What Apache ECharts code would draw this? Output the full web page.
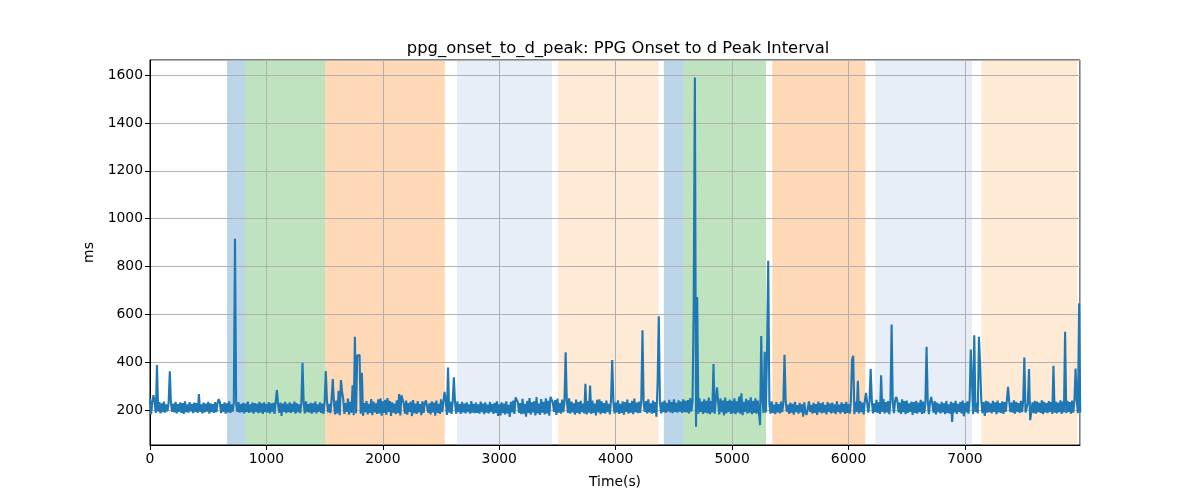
<!DOCTYPE html>
<html>
<head>
<meta charset="utf-8">
<script src="https://cdn.jsdelivr.net/npm/echarts@6/dist/echarts.min.js"></script>
<style>html,body{margin:0;padding:0;background:#fff}#c{width:1200px;height:500px}</style>
</head>
<body>
<div id="c"></div>
<script>
// Time step of the baseline samples (seconds)
const timeStep = 10;
// Baseline PPG onset to d-peak interval (ms), one value every 10 s, rows of 200 s
const baseline = [
248,183,236,192,230,188,226,194,233,186,228,191,235,189,224,195,231,187,229,193,
227,190,234,186,225,193,232,188,229,184,236,191,224,189,233,195,226,187,231,192,
229,188,235,193,224,186,231,190,227,194,234,185,228,192,225,188,233,191,226,189,
234,187,225,193,232,185,228,190,236,188,224,194,230,186,227,192,233,189,225,191,
230,186,227,192,235,188,224,191,231,185,229,193,226,187,234,190,228,184,232,192,
225,189,233,186,228,193,230,184,236,190,224,188,231,176,227,192,234,187,226,191,
232,188,226,193,235,185,229,191,224,187,233,190,228,186,236,192,225,189,230,185,
228,191,235,186,224,193,232,188,227,184,234,180,238,190,226,187,233,192,229,182,
240,186,231,179,236,190,245,184,229,192,248,181,234,189,230,178,239,187,244,183,
233,185,241,176,229,191,238,182,226,188,246,179,235,190,228,184,240,186,249,177,
236,188,243,180,229,192,238,176,232,189,227,183,241,187,230,178,236,190,226,185,
240,181,229,193,235,175,242,187,227,184,237,190,225,179,236,188,230,185,244,189,
228,182,236,190,231,177,240,188,226,184,245,191,233,186,238,180,247,189,235,184,
238,189,229,185,236,192,225,184,234,190,227,186,232,192,224,185,237,189,226,187,
231,188,224,185,235,191,227,183,232,189,223,186,234,192,225,184,230,188,236,176,
224,178,232,187,227,182,236,186,222,171,234,190,240,184,253,178,232,188,229,183,
247,185,226,172,238,188,250,181,232,190,237,178,254,186,227,180,246,189,234,182,
249,186,239,177,255,184,231,192,242,180,248,189,229,185,244,191,235,183,240,188,
249,185,235,190,228,181,244,188,233,183,239,191,227,186,251,182,237,189,230,184,
240,188,227,178,243,190,233,183,236,188,229,185,240,192,226,182,246,187,234,186,
231,190,241,184,226,188,236,181,233,192,244,185,229,189,238,183,248,191,231,187,
235,188,242,184,230,192,237,186,245,190,228,185,240,188,233,184,243,189,230,186,
234,191,240,188,229,194,243,190,233,187,245,192,230,189,241,193,235,188,245,191,
238,190,242,186,250,194,236,183,258,188,241,185,249,192,235,184,245,189,239,186,
252,183,238,190,262,185,243,188,234,182,249,191,240,178,252,186,237,192,244,184,
239,187,249,183,236,190,256,185,242,179,234,192,247,186,241,189,253,183,238,188,
249,185,240,190,260,178,245,188,237,182,230,191,226,185,236,188,223,183,233,190,
225,186,235,191,228,182,237,193,223,184,231,189,226,181,234,192,221,185,230,190,
224,172,232,190,227,183,236,192,222,185,230,188,225,180,235,191,228,186,232,189,
222,182,233,193,227,186,231,189,224,183,236,192,223,185,232,191,226,184,234,188,
225,185,235,190,229,183,234,192,223,186,237,191,231,182,240,187,229,189,235,184,
239,186,228,191,243,188,232,184,238,192,247,186,233,190,237,183,244,189,230,187,
241,186,235,190,231,184,245,191,237,183,240,188,228,192,235,180,233,188,239,185,
231,191,243,184,235,187,229,190,240,183,233,178,227,189,237,182,231,191,226,186,
234,190,228,183,238,188,224,185,235,150,230,190,239,184,226,192,233,186,240,174,
229,190,236,185,242,189,232,183,239,192,230,186,237,190,241,187,233,176,239,189,
235,191,228,186,239,192,232,183,240,190,229,188,236,184,233,192,240,186,235,191,
231,189,241,185,234,193,229,188,238,191,235,184,240,190,230,186,237,192,232,187,
239,185,235,191,230,188,241,183,234,190,229,187,237,192,233,184,240,189,235,186,
231,191,241,184,235,190,229,187,238,192,233,185,240,189,236,183,241,187,234,190
];
// Spikes and dips: [time (s), ms]
const events = [
[30,262],[57,388],[172,362],[421,267],[593,246],[730,916],[1086,283],[1309,398],
[1512,363],[1560,250],[1570,330],[1624,280],[1644,325],[1652,276],[1739,304],[1756,506],
[1780,428],[1790,420],[1800,430],[1822,356],[1960,245],[2037,250],[2140,267],[2160,262],
[2170,265],[2370,240],[2527,276],[2563,378],[2607,337],[3145,255],[3452,250],[3572,442],
[3744,310],[3778,302],[3860,245],[3973,409],[4228,534],[4350,172],[4360,313],[4371,592],
[4666,648],[4683,1590],[4690,130],[4700,673],[4841,392],[4870,295],[5079,270],[5240,137],
[5250,509],[5279,444],[5290,190],[5300,450],[5311,824],[5451,431],[5640,180],[6030,410],
[6040,427],[6081,322],[6150,272],[6190,371],[6279,345],[6365,558],[6410,255],[6668,465],
[6714,255],[7052,453],[7062,460],[7075,513],[7121,506],[7130,390],[7370,297],[7513,420],
[7520,190],[7551,371],[7560,158],[7762,385],[7863,527],[7949,374],[7977,646],[7990,190]
];
// Shaded activity periods: [start (s), end (s), colour]
const spanStarts = [662, 819, 1506, 2636, 3506, 4414, 4583, 5345, 6230, 7141];
const spanEnds   = [819, 1506, 2532, 3452, 4368, 4583, 5291, 6144, 7061, 7963];
const spanColors = [
  'rgba(31,119,180,0.3)', 'rgba(44,160,44,0.3)', 'rgba(255,127,14,0.3)',
  'rgba(174,199,232,0.3)', 'rgba(255,187,120,0.3)',
  'rgba(31,119,180,0.3)', 'rgba(44,160,44,0.3)', 'rgba(255,127,14,0.3)',
  'rgba(174,199,232,0.3)', 'rgba(255,187,120,0.3)'
];
const xTicks = [0, 1000, 2000, 3000, 4000, 5000, 6000, 7000];
const yTicks = [200, 400, 600, 800, 1000, 1200, 1400, 1600];
const xRange = [0, 7988];
const yRange = [54, 1663];

const values = baseline.slice();
events.forEach(([t, v]) => { values[Math.round(t / timeStep)] = v; });
const seriesData = values.map((v, i) => [i * timeStep, v]);

const chart = echarts.init(document.getElementById('c'), null, {renderer: 'canvas'});
const font = 'DejaVu Sans';
chart.setOption({
  animation: false,
  backgroundColor: '#ffffff',
  textStyle: {fontFamily: font, color: '#000'},
  title: {
    text: 'ppg_onset_to_d_peak: PPG Onset to d Peak Interval',
    left: 613, top: 36, textAlign: 'center',
    textStyle: {fontFamily: font, fontSize: 16.4, fontWeight: 'normal', color: '#000'}
  },
  grid: {left: 150, right: 120, top: 60, bottom: 55, show: true, borderColor: '#000', borderWidth: 1, backgroundColor: 'transparent'},
  xAxis: {
    type: 'value', min: xRange[0], max: xRange[1], interval: 1000, z: 3,
    name: 'Time(s)', nameLocation: 'middle', nameGap: 30,
    nameTextStyle: {fontFamily: font, fontSize: 13.9, color: '#000'},
    axisLine: {show: true, lineStyle: {color: '#000', width: 1}},
    axisTick: {show: true, length: 5, lineStyle: {color: '#000'}},
    axisLabel: {fontFamily: font, fontSize: 13.9, color: '#000', margin: 7, showMaxLabel: false,
      formatter: v => xTicks.includes(v) ? String(v) : ''},
    splitLine: {show: true, lineStyle: {color: '#b0b0b0', width: 1}}
  },
  yAxis: {
    type: 'value', min: yRange[0], max: yRange[1], minInterval: 200, maxInterval: 200, z: 3,
    name: 'ms', nameLocation: 'middle', nameGap: 50,
    nameTextStyle: {fontFamily: font, fontSize: 13.9, color: '#000'},
    axisLine: {show: true, lineStyle: {color: '#000', width: 1}},
    axisTick: {show: true, length: 5, lineStyle: {color: '#000'}},
    axisLabel: {fontFamily: font, fontSize: 13.9, color: '#000', margin: 7, showMinLabel: false, showMaxLabel: false,
      formatter: v => yTicks.includes(v) ? String(v) : ''},
    splitLine: {show: true, lineStyle: {color: '#b0b0b0', width: 1}}
  },
  series: [
    {
      type: 'line', data: [], z: 1, silent: true,
      markArea: {
        silent: true,
        data: spanStarts.map((s, i) => [
          {xAxis: s, itemStyle: {color: spanColors[i]}},
          {xAxis: spanEnds[i]}
        ])
      }
    },
    {
      type: 'line', data: seriesData, z: 5, showSymbol: false, symbol: 'none',
      lineStyle: {color: '#1f77b4', width: 2.1}, sampling: false, silent: true
    }
  ]
});
</script>
</body>
</html>
